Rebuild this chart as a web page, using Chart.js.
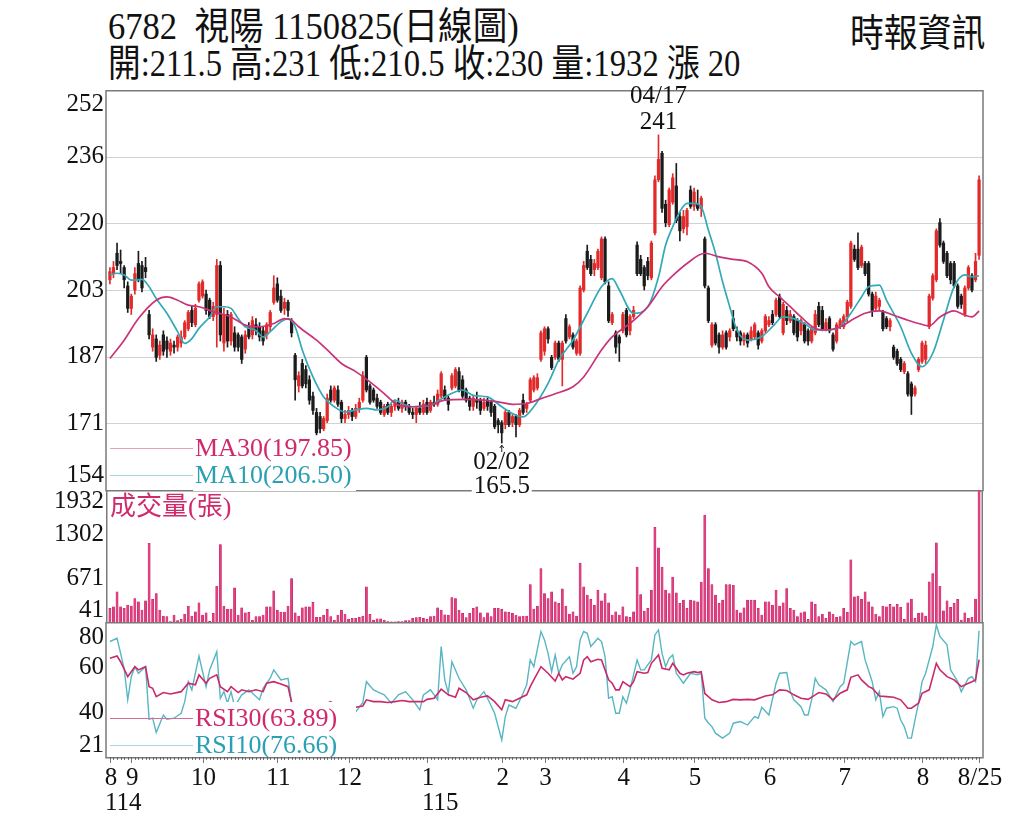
<!DOCTYPE html>
<html><head><meta charset="utf-8">
<script src="https://cdn.jsdelivr.net/npm/chart.js@4.4.0/dist/chart.umd.min.js"></script>
<style>
html,body{margin:0;padding:0;background:#fff;width:1024px;height:831px;overflow:hidden;}
.t{position:absolute;white-space:pre;font-family:"Liberation Serif","Noto Sans CJK TC",serif;font-size:38px;line-height:38px;color:#111;transform-origin:0 0;}
canvas{position:absolute;left:0;}
</style></head><body>
<div class="t" style="left:108px;top:7px;transform:scaleX(0.91)">6782  視陽 1150825(日線圖)</div>
<div class="t" style="left:108px;top:44px;transform:scaleX(0.86)">開:211.5 高:231 低:210.5 收:230 量:1932 漲 20</div>
<div class="t" style="left:850px;top:11px;transform:scaleX(0.89);font-family:'Noto Sans CJK TC'">時報資訊</div>
<canvas id="cp" width="1024" height="422" style="top:78px;width:1024px;height:422px"></canvas>
<canvas id="cv" width="1024" height="132" style="top:490px;width:1024px;height:132px"></canvas>
<canvas id="cr" width="1024" height="209" style="top:622px;width:1024px;height:209px"></canvas>
<script>
// ---------- data ----------
const openP = [205.5,207,212,210,208.5,204,198.5,203,209.5,209,
208.5,197,189,191,187,192,190.5,188,189.5,189,
190,191.5,193.5,198,194.5,200.5,201.5,202,200.5,196.5,
197,209,190,197,190.5,192.5,192,191.5,188.5,194,
192,194.5,194,193,192,194,200,204.5,201.5,198.5,
200,195.5,187,179.5,185,183.5,181,177,173,172,
169,171,178.5,176,178.5,175.5,171.5,172.5,173.5,172,
174,176,186.5,179.5,178.5,176.5,175.5,172.5,175,173,
174.5,175.5,174,175.5,174.5,173,172.5,174,173,175.5,
173.5,175.5,175,177,178.5,176.5,179,179.5,183,181,
178.5,176.5,174.5,176,176,174,176,175.5,174.5,171,
170.5,170,173,170.5,172,170,176,174,176,178.5,
179,186,188,193.5,186.5,186.5,190,186,196,191.5,
192,187.5,187.5,203,212.5,210.5,208,208.5,206,215.5,
204,195,192.5,191.5,193,198,193,196.5,214,210.5,
208.5,210,206,217,230,236.5,224,219,224.5,228.5,
221,218,218.5,227.5,223.5,224,223,215.5,203.5,189.5,
194.5,192,189,192.5,191.5,196,193,192.5,190.5,192,
191,191.5,192.5,190.5,193,194.5,197,197,201.3,192.5,
198,195.5,196.5,195.5,193,194.5,193,190.5,192.5,199,
198,193.5,196,192,190.5,194,194,196.5,199,213,
213,209,209.5,209.5,202,198.5,199,197.5,196,194,
189,188,186,183,182.5,180,177.5,183.5,185.5,186,
194,201,205.5,219.5,214.5,212,209.5,209.5,204,201.5,
197,203.5,206.5,205.5,211.5];
const highP = [208.5,210,214.5,212.8,209,205,202,208.5,212.5,210,
211,198,193.5,192,190.5,193,191.5,191,190.5,192,
193,195.5,198,199,199.5,205,205.5,203,201,200,
210.5,210,198.5,198,197.5,194,192.5,192,193,195,
196.5,196,195,194,195,198,206.5,206,203,201,
200.5,196,187.5,183,186,184.5,182,178,174,173,
172,177.5,179.5,179.5,179.5,176,173.5,174.5,174,175,
176.5,183,187,180,179,177.5,176,175,175.5,175,
176,176.5,176,176,175,174,174.5,175.5,176,176.5,
176,177,178.5,183,179.5,177,182.5,184,184,182,
179,177,177,178,176.5,176.5,176.5,176,175,171.5,
171,173.5,173.5,172.5,172.5,174,177.5,175.5,181.5,182,
182.5,193,194,194,187,190.5,190.5,190.5,197,194.5,
192.5,191,204,210,214,211.5,210.5,213,216,216,
205,197.5,193,192,197.5,198.5,197,199,214.8,211.5,
209,211,215,231,241,237,225,228,231.5,234,
222,222.5,223,228.5,228,227.5,226,216,204,195,
195,192.5,193,193,193.5,198,194,193,192.5,192.5,
194,195,193,193.5,197,196.5,198,201,202,200,
199,198,197,196,196,195,193.5,194,198,200,
199,196,196.5,192.5,195,196,197,200.5,215,214,
217,214,210,210,202.5,202.5,201,198,196.5,196,
189.5,188.5,186.5,185.5,183,180.5,179.5,186.5,190.5,190.5,
202,207,218,220.5,215,212.5,210,210,204.5,202,
204,209,207,212,231];
const lowP = [204.5,206,208,207,203.5,197.5,197,202,205,202.5,
206,191,188,185.5,186,187,186.5,187,187.5,188,
189,191,193,194,194,200,201,197,196,195.5,
189,190.5,188,189,189.5,188,188,185,187.5,191,
191,192,190.5,189.5,191,193,199.5,200,197.5,197,
196.5,191.5,176,178,179,179,175,172.5,167.5,168,
168.5,170.5,175.5,175.5,174.5,170.5,170.5,171.5,171,171.5,
173,175.5,178,175,175.5,174,172.5,172,172.5,172,
173.5,173.5,173,173.5,172.5,171.5,170.5,172.5,172.5,172.5,
173,174.5,174.5,176.5,176,173.5,178.5,179,178,176.5,
175.5,173.5,173.5,174,172.5,173.5,173.5,172,169,168,
165.5,169,169.5,169.5,167,169.5,172.5,173,175.5,178,
178.5,185.5,187,190,183.5,186,185.5,179.5,190,191,
188.5,187,187,202.5,208,206.5,206.5,208,205.5,204.5,
195,194.5,187.5,185.5,192.5,191.5,192,196,206.5,206.5,
203,205.5,205.5,216.5,229.5,222,218.5,218.5,224,219.5,
215,217,216.5,223,222.5,222.5,221,203.5,195,189,
189.5,187.5,188.5,188.5,190.5,193,190.5,189.5,189.5,189,
190.5,191,188.5,190,192.5,194,194.5,196.5,196,192,
194.5,195,192,190.5,192,190,189.5,190,192,194,
193,193,192.5,188,190,193.5,193.5,195,198.5,210,
208,208.5,206.5,201.5,196.5,198,198,193,193.5,193,
186,184.5,183,182.5,177,172.5,177,183,185,185,
193.5,200.5,205,213.5,209.5,206,204.5,203.5,198.5,198.5,
196.5,203,202.5,205,210.5];
const closeP = [207.5,208.5,209,209.5,205.5,198.5,201.5,207,205.5,203.5,
207.5,192,192,186.5,189.5,188,188.5,190,189,191.5,
191.5,195,197.5,195,198.5,204.5,205,198,196.5,199,
209,192,197,190.5,197,189,189,186,192,191.5,
195.5,193,191.5,190.5,194.5,197.5,203.5,200.5,198,200,
198,192.5,181,182,179.5,180,176,173.5,168,169,
171.5,176.5,176,179,175,171.5,172.5,173.5,172,174,
175.5,182,178.5,175.5,176,174.5,173,174.5,173,174.5,
175.5,174,175.5,174.5,173,172.5,174,173,175,173,
175.5,175,177.5,182.5,176.5,175,182,183.5,178.5,177,
176,174.5,176.5,175.5,173.5,175.5,174.5,173,169.5,170,
168,173,170,172,170,173.5,173,175,181,181.5,
181.5,192.5,193.5,191,184,190,186,190,190.5,194,
189,190.5,203.5,209,208.5,207,209.5,212.5,215.5,205,
195.5,197,189,190,197,192,196.5,198,207,207,
204,206.5,214.5,230,235,223,219.5,227.5,230.5,220,
217.5,221,222.5,223.5,227,223,225.5,204,195.5,194.5,
190,189,192,189,193,193.5,191.5,190.5,192,190,
193,194.5,189.5,193,196.5,195.5,195,200.5,196.5,199.5,
195.5,197,192.5,191.5,195.5,190.5,190.5,193.5,197,194.5,
193.5,195,193,188.5,194.5,195.5,196.5,200,214.5,210.5,
208.5,213.5,207,202,198,201.5,200.5,193.5,194,195.5,
186.5,185,183.5,185,177.5,177,179,186,190,189.5,
201.5,206.5,217.5,214,210,206.5,205.5,204,199,199.5,
203.5,208.5,203,210,230];
const volume = [236,259,473,259,236,283,269,378,331,212,
345,1169,364,449,212,126,117,46,141,60,
79,155,269,126,188,316,141,174,50,164,
553,1150,269,221,226,530,141,245,174,179,
69,117,117,141,259,259,487,212,183,183,
269,663,174,126,245,259,259,321,107,107,
141,221,117,69,141,212,155,79,93,93,
107,126,544,150,69,88,88,69,46,45,
45,46,46,60,60,93,103,107,93,79,
117,126,245,212,145,141,392,378,212,164,
103,164,236,259,174,103,174,117,236,236,
221,188,179,164,141,117,126,126,577,226,
269,805,449,378,473,331,307,516,269,155,
188,126,884,544,426,364,283,497,345,449,
316,141,188,141,259,117,107,188,828,435,
197,236,497,1396,1103,828,497,449,685,459,
307,354,236,354,345,331,614,1572,805,577,
426,307,354,577,577,568,212,174,245,354,
354,354,236,141,331,331,283,497,269,316,
520,236,212,117,174,188,79,331,293,117,
155,93,188,155,107,117,236,180,932,402,
412,364,473,331,259,155,117,269,259,293,
259,293,250,79,316,369,93,164,174,126,
615,733,1174,553,202,345,250,307,364,69,
174,93,107,369,1932];
const ma30Idx = [0,4,8,13,16,19,22,25,29,34,38,42,46,49,51,53,58,62,65,69,73,77,79,81,85,90,94,100,105,109,113,117,121,125,130,133,138,141,146,151,155,158,162,167,171,175,179,183,185,188,191,194,198,201,205,209,212,216,220,224,227,230,233,237,240,242,244];
const ma30Val = [186.2,190.7,196,200.5,201.3,200.5,199.3,198.9,197.7,196.4,194.4,194,194.8,196,195.6,194,190.7,187.5,185,183,180.5,177.6,176,174.8,174.4,174.8,176,176.2,176,175.6,175,175.2,176.4,177.6,179.3,181.7,188.3,191.5,194.8,198.9,203.8,206.5,209.5,212,211.1,210.5,209.9,207.1,203.8,201.3,198.9,196.4,193.6,193.2,194,196,197.3,197.9,196.8,195.6,194.8,194.2,196.4,197.9,196.8,196.4,197.85];
const ma10Idx = [0,2,4,6,9,11,13,16,19,21,23,25,28,30,32,34,36,38,41,43,45,48,50,52,54,57,60,63,66,69,72,75,78,80,82,85,90,94,99,102,106,110,114,116,119,123,126,130,134,138,141,143,147,151,154,156,158,160,162,164,166,168,170,172,174,176,179,183,186,189,192,195,198,201,205,208,211,213,216,218,222,225,228,231,234,237,240,242,244];
const ma10Val = [206.7,207.1,206.7,205.4,205.6,203.8,200.9,197.3,192.8,189.9,191.1,193.6,196.4,198.9,198.9,198.5,196,194,193.1,191.5,192.8,195.2,196,194,188.3,181.7,176.8,174.4,173.1,173.6,174,173.6,174.4,176,175.2,174.4,174.8,176.8,178.5,177.2,176.8,174.4,172.3,171.9,174.4,180.1,185.8,190.7,197.3,203.8,205.8,203,197.3,198.9,206.2,214,218.5,222.2,224.2,224.2,223.4,217.7,212,205,198.9,193.2,190.7,191.6,194,196.4,196,194.8,193.2,193.2,194,197.3,201.3,203.8,204.2,200.5,194,187.5,184.2,187.5,195.6,203.8,206.7,206.2,206.5];
const rsi30Idx = [0,2,3,5,7,8,10,11,12,13,15,17,20,22,24,25,27,28,30,31,33,34,36,37,39,41,43,44,46,48,50,51,54,57,60,62,63,65,67,69,71,72,74,76,78,80,82,84,86,88,89,91,93,95,97,98,100,102,104,106,108,110,111,113,115,117,118,119,121,123,125,126,127,128,130,132,133,134,135,137,138,140,141,142,143,144,146,147,148,150,151,152,154,155,157,158,160,161,162,164,165,166,167,168,169,171,173,175,177,179,181,183,184,186,188,190,192,194,196,198,199,201,203,205,207,208,210,211,213,214,216,218,220,222,224,225,227,228,230,232,233,235,237,239,241,242,243,244];
const rsi30Val = [64.5,65.5,63,56.4,60.8,59.4,60.8,52,51.3,47.6,49.4,48.8,49.8,53.5,52.8,57.2,53.5,55.7,57.2,52,49.8,52,49.4,50.6,49.8,50.6,49.8,53.5,54.2,53.2,52,45,44,43.5,44,45.4,43.9,42,41.8,42.9,43.5,46.2,45.4,45.4,45,45.4,45.9,45.4,45.4,45.4,46.4,46.9,50.9,48.4,47.3,51.3,49.4,46.2,47.3,47.9,45.4,41.8,46.2,45.4,46.9,48.4,52,55,60.8,57.9,54.5,57.9,55,56.4,55.3,57.9,63.8,65.2,63,64.1,63.8,55,53.5,50.6,50.6,54.2,52,54.2,58.6,57.9,58.2,62.3,66,60.1,59.4,62.3,57.9,57.2,57.9,58.6,58.2,58.6,49,47.6,46.2,45,45.4,46.4,46.2,46.4,46.2,47.3,47.9,48.4,50.6,50.3,48.4,46.9,46.4,48.4,49.4,48.8,46.2,49.1,50.6,56.1,57.2,55,52,51.3,47.9,47.6,47.3,46.2,42.5,42.5,44.7,49.1,50.6,62.3,59.4,56.4,55,52,53.5,54.2,55,63.89];
const rsi10Idx = [0,2,3,4,5,6,7,8,10,11,12,13,15,16,18,20,21,22,23,25,27,28,30,31,32,33,34,35,37,39,42,43,45,46,48,50,51,53,56,59,62,63,65,66,68,71,72,74,75,77,79,81,83,85,87,88,90,92,93,94,95,96,98,100,102,103,105,106,108,110,111,112,114,116,117,118,119,121,122,123,124,125,126,127,129,130,131,132,133,134,135,137,138,139,140,141,142,143,144,145,146,148,149,150,152,153,154,155,156,157,158,159,161,162,163,165,166,167,168,169,170,172,174,175,177,179,181,182,183,185,187,188,190,191,192,194,195,196,197,198,199,201,203,205,206,208,209,211,212,214,215,216,217,218,220,221,222,223,224,225,226,227,228,229,231,232,233,235,236,238,239,241,242,243,244];
const rsi10Val = [71.9,73.3,66.7,60,46.2,56.4,60.8,57.9,60.8,37.6,38.1,31.8,39.5,37.6,38.1,40.3,45.4,54.2,50.6,65.5,52,59.4,67.4,46.9,49.8,44.7,49.8,43.2,48.4,50.6,46.2,51.3,55.7,59.4,55,55.7,45,38,36,40,44.7,40.3,37.3,34.7,38.8,45,54.2,50.6,49.8,48.4,44.7,48.4,49.8,46.2,41.8,48.4,50.6,46.2,69.7,55,49.1,63,55.7,50.6,42.5,46.2,49.8,46.9,40.3,28.5,38.8,43.9,42.5,49.1,52.8,63.8,60.8,76.3,72.6,66.7,58.6,66,57.9,61.6,65.2,57.9,60.8,72.6,76.3,75.5,69.7,73.3,71.9,65.2,46.9,47.6,40.3,40.3,47.6,44.7,50.6,63.8,59.4,59.4,63.8,74.8,77,66.7,60.8,64.5,66,57.9,53.5,55.7,57.9,57.2,57.9,38.1,36,34.4,31.5,29.3,31.5,35.9,36.6,35.1,38.8,38.1,42.9,39.5,53.5,57.9,58.2,49.8,46.2,43.2,39.5,39.5,46.2,55.7,52.8,50.6,45.4,52,53.5,71.9,70.4,71.9,63.8,54.2,46.2,49.8,38.8,42.5,43.2,42.5,37.3,34.4,29.3,29.3,37.3,44.7,54.2,57.9,69.7,79.2,74.1,70.4,59.4,54.2,49.8,55.7,56.4,54.2,76.66];
const priceTicks = [252,235.67,219.33,203,186.67,170.33,154];
const priceTickLabels = ['252','236','220','203','187','171','154'];
const volTicks = [1932,1301.7,671.3,41];
const volTickLabels = ['1932','1302','671','41'];
const rsiTicks = [80.5,60.67,40.83,21];
const rsiTickLabels = ['80','60','40','21'];
const monthIdx = [0,6,26,47,67,89,110,122,144,164,185,206,228,244];
const monthLbl = ['8','9','10','11','12','1','2','3','4','5','6','7','8','8/25'];
const yearIdx = [0,89];
const yearLbl = ['114','115'];
const maLegend = ['MA30(197.85)','MA10(206.50)'];
const rsiLegend = ['RSI30(63.89)','RSI10(76.66)'];
const peakDate = '04/17', troughDate = '02/02';

// ---------- styling ----------
const UP = '#e32a2a', DN = '#1b1b1b';
const C30 = '#cf2a6c', C10 = '#2aa0b2';
const LINE30 = '#c8337a', LINE10 = '#33a9b8';
const RSI30C = '#c92a6a', RSI10C = '#58b6c3';
const BORDER = '#7a7a7a';
const SERIF = '"Liberation Serif"';
const N = openP.length;
const ids = Array.from({length: N}, (_, i) => i);
const candleCol = ids.map(i => closeP[i] >= openP[i] ? UP : DN);
const xOpt = {type: 'linear', min: -1.1, max: 245.1, offset: false, display: false, grid: {offset: false}};
const baseOpts = (pad, ymin, ymax) => ({
  responsive: false, animation: false, events: [],
  layout: {padding: pad},
  plugins: {legend: {display: false}, tooltip: {enabled: false}},
  scales: {x: xOpt, y: {min: ymin, max: ymax, display: false}}
});

function yLabels(ctx, area, scale, vals, lbls, padT, padB) {
  ctx.save();
  ctx.font = '25px ' + SERIF; ctx.fillStyle = '#111';
  ctx.textAlign = 'right'; ctx.textBaseline = 'middle';
  vals.forEach((v, k) => {
    let y = scale.getPixelForValue(v);
    y = Math.max(area.top + padT, Math.min(area.bottom - padB, y));
    ctx.fillText(lbls[k], area.left - 2, y);
  });
  ctx.restore();
}
// legend: two entries at rows yA, yB (canvas coords), white box from boxTop to boxBot
function legendBlock(ctx, x0, x1, yA, yB, texts, cols, lineCols, boxTop, boxBot) {
  ctx.save();
  ctx.fillStyle = '#fff';
  ctx.fillRect(x1 - 2, boxTop, 163, boxBot - boxTop);
  ctx.lineWidth = 1;
  [yA, yB].forEach((y, k) => {
    ctx.strokeStyle = lineCols[k];
    ctx.beginPath(); ctx.moveTo(x0, y + 0.5); ctx.lineTo(x1 - 2, y + 0.5); ctx.stroke();
    ctx.font = '26px ' + SERIF; ctx.fillStyle = cols[k];
    ctx.textAlign = 'left'; ctx.textBaseline = 'middle';
    ctx.fillText(texts[k], x1, y + 1);
  });
  ctx.restore();
}

// ---------- price panel ----------
const pricePlugin = {
  id: 'pricePanel',
  beforeDatasetsDraw(chart) {
    const {ctx, chartArea: a, scales: {y}} = chart;
    ctx.save(); ctx.strokeStyle = '#d2d2d2'; ctx.lineWidth = 1.2;
    priceTicks.slice(1, -1).forEach(v => {
      const py = Math.round(y.getPixelForValue(v)) + 0.5;
      ctx.beginPath(); ctx.moveTo(a.left, py); ctx.lineTo(a.right, py); ctx.stroke();
    });
    ctx.restore();
  },
  afterDatasetsDraw(chart) {
    const {ctx, chartArea: a, scales: {x, y}} = chart;
    ctx.save();
    ctx.strokeStyle = BORDER; ctx.lineWidth = 1.5;
    ctx.strokeRect(a.left, a.top + 0.75, a.right - a.left, a.bottom - a.top);
    // peak annotation
    const hi = Math.max(...highP), pi = highP.indexOf(hi);
    const px = x.getPixelForValue(pi), py = y.getPixelForValue(hi);
    ctx.font = '25px ' + SERIF; ctx.fillStyle = '#111';
    ctx.textAlign = 'center'; ctx.textBaseline = 'middle';
    ctx.fillText(String(hi), px, py - 12);
    ctx.fillText(peakDate, px, py - 38);
    // trough annotation
    const lo = Math.min(...lowP), li = lowP.indexOf(lo);
    const tx = x.getPixelForValue(li), ty = y.getPixelForValue(lo);
    ctx.strokeStyle = '#222'; ctx.lineWidth = 1;
    ctx.beginPath(); ctx.moveTo(tx, ty + 2); ctx.lineTo(tx, ty + 9); ctx.stroke();
    ctx.beginPath(); ctx.moveTo(tx - 2, ty + 5); ctx.lineTo(tx, ty + 2); ctx.lineTo(tx + 2, ty + 5); ctx.stroke();
    ctx.fillStyle = '#fff';
    ctx.fillRect(tx - 30, ty + 9, 60, 44);
    ctx.fillStyle = '#111';
    ctx.fillText(troughDate, tx, ty + 19);
    ctx.fillText(String(lo), tx, ty + 43);
    ctx.restore();
    legendBlock(ctx, a.left + 4, 195, a.bottom - 42, a.bottom - 15, maLegend, [C30, C10], ['#e6a0bf', '#a9d6dc'], a.bottom - 54, a.bottom + 1);
    yLabels(ctx, a, y, priceTicks, priceTickLabels, 14, 15);
  }
};
new Chart(document.getElementById('cp'), {
  type: 'bar',
  data: {datasets: [
    {type: 'line', data: ma30Idx.map((v, k) => ({x: v, y: ma30Val[k]})), borderColor: LINE30, borderWidth: 1.7, pointRadius: 0, cubicInterpolationMode: 'monotone', order: 0},
    {type: 'line', data: ma10Idx.map((v, k) => ({x: v, y: ma10Val[k]})), borderColor: LINE10, borderWidth: 1.7, pointRadius: 0, cubicInterpolationMode: 'monotone', order: 0},
    {type: 'bar', data: ids.map(i => ({x: i, y: [openP[i], closeP[i]]})), backgroundColor: candleCol, barThickness: 2.6, minBarLength: 1, grouped: false, order: 1},
    {type: 'bar', data: ids.map(i => ({x: i, y: [lowP[i], highP[i]]})), backgroundColor: candleCol, barThickness: 1, grouped: false, order: 2}
  ]},
  options: baseOpts({left: 106, right: 41, top: 12, bottom: 10}, 154, 252),
  plugins: [pricePlugin]
});

// ---------- volume panel ----------
const volPlugin = {
  id: 'volPanel',
  afterDatasetsDraw(chart) {
    const {ctx, chartArea: a, scales: {y}} = chart;
    ctx.save();
    ctx.strokeStyle = BORDER; ctx.lineWidth = 1.5;
    ctx.beginPath(); ctx.moveTo(a.left + 0.75, a.top); ctx.lineTo(a.left + 0.75, a.bottom);
    ctx.moveTo(a.right - 0.75, a.top); ctx.lineTo(a.right - 0.75, a.bottom); ctx.stroke();
    ctx.font = '26px ' + SERIF + ',"Noto Sans CJK TC"'; ctx.fillStyle = C30;
    ctx.textAlign = 'left'; ctx.textBaseline = 'middle';
    ctx.fillText('成交量(張)', a.left + 4, a.top + 18);
    ctx.restore();
    yLabels(ctx, a, y, volTicks, volTickLabels, 11, 12);
  }
};
new Chart(document.getElementById('cv'), {
  type: 'bar',
  data: {datasets: [
    {data: ids.map(i => ({x: i, y: volume[i]})), backgroundColor: '#e0407f', borderColor: '#c01c62', borderWidth: 0.4, barThickness: 2.2}
  ]},
  options: baseOpts({left: 106, right: 41, top: 0, bottom: 0}, 41, 1932),
  plugins: [volPlugin]
});

// ---------- RSI panel ----------
const rsiPlugin = {
  id: 'rsiPanel',
  afterDatasetsDraw(chart) {
    const {ctx, chartArea: a, scales: {x, y}} = chart;
    legendBlock(ctx, a.left + 4, 195, a.top + 96, a.top + 123, rsiLegend, [C30, C10], ['#d66a98', '#a9d6dc'], a.top + 80, a.bottom);
    ctx.save();
    ctx.strokeStyle = BORDER; ctx.lineWidth = 1.5;
    ctx.strokeRect(a.left, a.top + 0.75, a.right - a.left, a.bottom - a.top);
    ctx.strokeStyle = '#555'; ctx.lineWidth = 0.8;
    ids.forEach(i => {
      const px = Math.round(x.getPixelForValue(i)) + 0.5;
      const len = monthIdx.includes(i) ? 6 : 3;
      ctx.beginPath(); ctx.moveTo(px, a.bottom); ctx.lineTo(px, a.bottom + len); ctx.stroke();
    });
    ctx.font = '25px ' + SERIF; ctx.fillStyle = '#111';
    ctx.textBaseline = 'middle'; ctx.textAlign = 'center';
    monthIdx.forEach((m, k) => ctx.fillText(monthLbl[k], x.getPixelForValue(m) + 1, a.bottom + 21));
    ctx.textAlign = 'left';
    yearIdx.forEach((m, k) => ctx.fillText(yearLbl[k], x.getPixelForValue(m) - 5, a.bottom + 46));
    ctx.restore();
    yLabels(ctx, a, y, rsiTicks, rsiTickLabels, 15, 12);
  }
};
new Chart(document.getElementById('cr'), {
  type: 'line',
  data: {datasets: [
    {data: rsi30Idx.map((v, k) => ({x: v, y: rsi30Val[k]})), borderColor: RSI30C, borderWidth: 1.6, pointRadius: 0, tension: 0, order: 0},
    {data: rsi10Idx.map((v, k) => ({x: v, y: rsi10Val[k]})), borderColor: RSI10C, borderWidth: 1.4, pointRadius: 0, tension: 0, order: 1}
  ]},
  options: baseOpts({left: 106, right: 41, top: 0, bottom: 74}, 21, 80.5),
  plugins: [rsiPlugin]
});
</script>
</body></html>
